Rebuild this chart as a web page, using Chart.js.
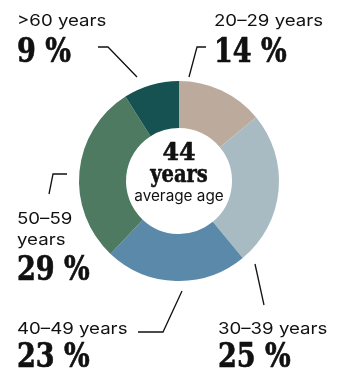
<!DOCTYPE html>
<html>
<head>
<meta charset="utf-8">
<script src="https://cdn.jsdelivr.net/npm/chart.js@4"></script>
<style>
  html, body { margin: 0; padding: 0; background: #fff; }
  #wrap { width: 344px; height: 372px; position: relative; }
</style>
</head>
<body>
<div id="wrap"><canvas id="age-chart"></canvas></div>
<script>
const ageGroups = ['20–29 years', '30–39 years', '40–49 years', '50–59 years', '>60 years'];
const shares = [14, 25, 23, 29, 9];
const groupColors = ['#bcab9c', '#a9bbc2', '#5a89a9', '#4e7a62', '#165251'];
const averageAge = 44;

const SANS = 'Inter, "Open Sans", sans-serif';
const SERIF = '"DejaVu Serif", serif';

// where each group's caption sits and how its leader line runs
const callouts = [
  { lines: ['20–29 years'], x: 214, y: 26, pctY: 62, leader: [[206, 47], [197, 47], [189, 77]] },
  { lines: ['30–39 years'], x: 218, y: 334, pctY: 367, leader: [[255, 264], [264, 305]] },
  { lines: ['40–49 years'], x: 17, y: 334, pctY: 367, leader: [[182, 291], [163, 332], [138, 332]] },
  { lines: ['50–59', 'years'], x: 17, y: 224, pctY: 280, leader: [[67, 174], [53, 174], [49, 194]] },
  { lines: ['>60 years'], x: 17, y: 26, pctY: 62, leader: [[98, 47], [108, 47], [137, 77]] }
];

// draws text narrowed (or widened) by sx, optionally outlined to look heavier
function squeezed(ctx, text, x, y, sx, heavy) {
    ctx.save();
    ctx.translate(x, y);
    ctx.scale(sx, 1);
    ctx.fillText(text, 0, 0);
    if (heavy) {
        ctx.lineWidth = heavy;
        ctx.lineJoin = 'round';
        ctx.strokeText(text, 0, 0);
    }
    ctx.restore();
}

const calloutPlugin = {
    id: 'callouts',
    afterDraw(chart) {
        const ctx = chart.ctx;
        const arc = chart.getDatasetMeta(0).data[0];
        const values = chart.data.datasets[0].data;

        ctx.save();
        ctx.fillStyle = '#111';
        ctx.strokeStyle = '#111';
        ctx.textAlign = 'left';
        ctx.textBaseline = 'alphabetic';

        callouts.forEach((c, i) => {
            ctx.font = '16.5px ' + SANS;
            c.lines.forEach((line, j) => squeezed(ctx, line, c.x, c.y + j * 21, 1.13));

            ctx.font = 'bold 33px ' + SERIF;
            squeezed(ctx, values[i] + ' %', c.x, c.pctY, 0.82, 0.7);

            ctx.lineWidth = 1.3;
            ctx.beginPath();
            c.leader.forEach(([px, py], k) => k ? ctx.lineTo(px, py) : ctx.moveTo(px, py));
            ctx.stroke();
        });

        // average age in the hole
        ctx.font = 'bold 25px ' + SERIF;
        let w = ctx.measureText(String(averageAge)).width * 0.95;
        squeezed(ctx, String(averageAge), arc.x - w / 2, arc.y - 21, 0.95, 0.6);

        ctx.font = 'bold 25px ' + SERIF;
        w = ctx.measureText('years').width * 0.78;
        squeezed(ctx, 'years', arc.x - w / 2, arc.y + 1, 0.78, 0.6);

        ctx.font = '15px ' + SANS;
        w = ctx.measureText('average age').width * 1.02;
        squeezed(ctx, 'average age', arc.x - w / 2, arc.y + 20, 1.02);
        ctx.restore();
    }
};

new Chart(document.getElementById('age-chart'), {
    type: 'doughnut',
    data: {
        labels: ageGroups,
        datasets: [{
            data: shares,
            backgroundColor: groupColors,
            borderWidth: 0
        }]
    },
    options: {
        responsive: true,
        maintainAspectRatio: false,
        animation: false,
        cutout: '53%',
        layout: { padding: { left: 79, right: 65, top: 81, bottom: 91 } },
        plugins: {
            legend: { display: false },
            tooltip: { enabled: false }
        }
    },
    plugins: [calloutPlugin]
});
</script>
</body>
</html>
